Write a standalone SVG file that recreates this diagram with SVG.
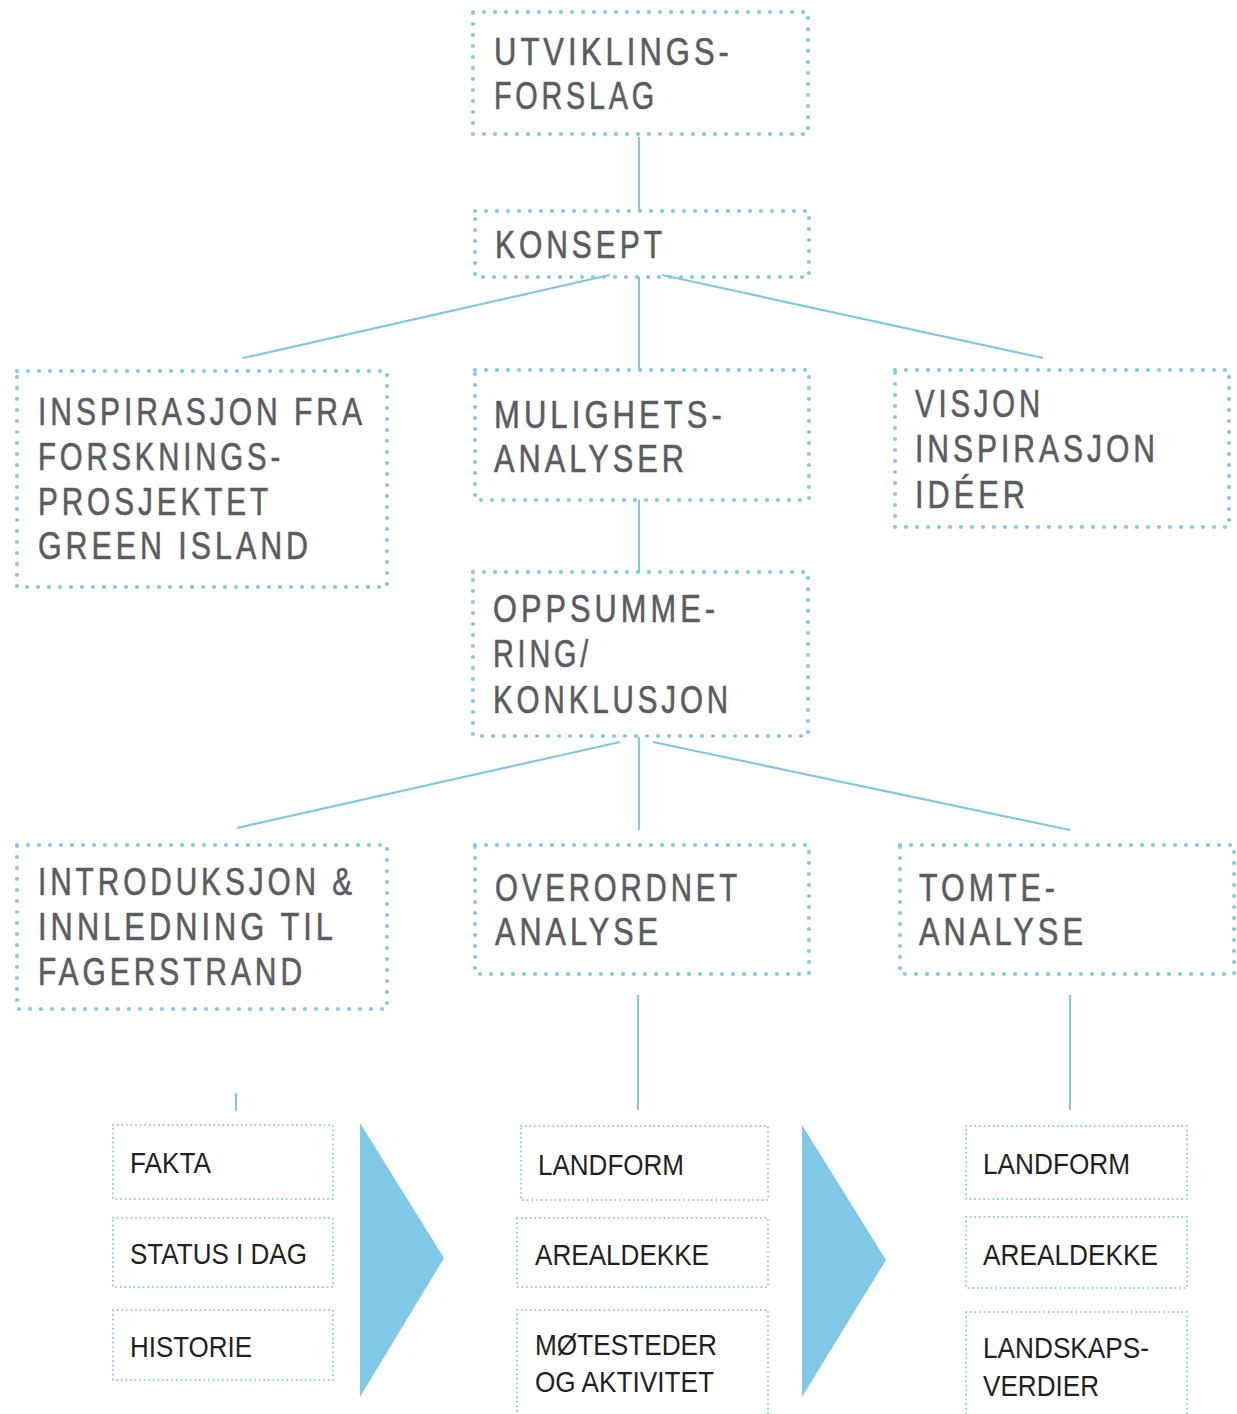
<svg xmlns="http://www.w3.org/2000/svg" width="1237" height="1414" viewBox="0 0 1237 1414">
<style>
.big{fill:none;stroke:#7fcbe9;stroke-width:4.2;stroke-dasharray:0 11;stroke-linecap:round}
.small{fill:none;stroke:#7fcbe9;stroke-width:2;stroke-dasharray:0 4.6;stroke-linecap:round}
.conn line{stroke:#7fc8e5;stroke-width:2.2}
.t1{font-family:"Liberation Sans",Arial,sans-serif;font-size:38px;fill:#5b5c61;stroke:#5b5c61;stroke-width:0.6;letter-spacing:5px}
.t2{font-family:"Liberation Sans",Arial,sans-serif;font-size:29px;fill:#231f20}
.tri{fill:#7fc9e6}
</style>
<rect width="1237" height="1414" fill="#ffffff"/>
<g id="connectors" class="conn">
<line x1="639" y1="137" x2="639" y2="211"/>
<line x1="610" y1="275" x2="243" y2="358"/>
<line x1="639" y1="277" x2="639" y2="370"/>
<line x1="662" y1="275" x2="1043" y2="358"/>
<line x1="639" y1="500" x2="639" y2="572"/>
<line x1="620" y1="742" x2="237" y2="828"/>
<line x1="639" y1="737" x2="639" y2="830"/>
<line x1="653" y1="742" x2="1070" y2="830"/>
<line x1="236" y1="1093" x2="236" y2="1111"/>
<line x1="638" y1="995" x2="638" y2="1110"/>
<line x1="1070" y1="995" x2="1070" y2="1110"/>
</g>
<g id="utviklingsforslag">
<rect class="big" x="473" y="12" width="335" height="122"/>
<text class="t1" x="494" y="65" textLength="239" lengthAdjust="spacingAndGlyphs">UTVIKLINGS-</text>
<text class="t1" x="494" y="109" textLength="164" lengthAdjust="spacingAndGlyphs">FORSLAG</text>
</g>
<g id="konsept">
<rect class="big" x="475" y="211" width="334" height="66"/>
<text class="t1" x="495" y="258" textLength="171" lengthAdjust="spacingAndGlyphs">KONSEPT</text>
</g>
<g id="inspirasjon">
<rect class="big" x="17" y="371" width="370" height="216"/>
<text class="t1" x="38" y="425" textLength="328" lengthAdjust="spacingAndGlyphs">INSPIRASJON FRA</text>
<text class="t1" x="38" y="470" textLength="246" lengthAdjust="spacingAndGlyphs">FORSKNINGS-</text>
<text class="t1" x="38" y="515" textLength="234" lengthAdjust="spacingAndGlyphs">PROSJEKTET</text>
<text class="t1" x="38" y="559" textLength="274" lengthAdjust="spacingAndGlyphs">GREEN ISLAND</text>
</g>
<g id="mulighetsanalyser">
<rect class="big" x="475" y="370" width="334" height="130"/>
<text class="t1" x="494" y="428" textLength="232" lengthAdjust="spacingAndGlyphs">MULIGHETS-</text>
<text class="t1" x="494" y="472" textLength="194" lengthAdjust="spacingAndGlyphs">ANALYSER</text>
</g>
<g id="visjon">
<rect class="big" x="895" y="370" width="334" height="157"/>
<text class="t1" x="915" y="417" textLength="129" lengthAdjust="spacingAndGlyphs">VISJON</text>
<text class="t1" x="915" y="462" textLength="244" lengthAdjust="spacingAndGlyphs">INSPIRASJON</text>
<text class="t1" x="915" y="508" textLength="114" lengthAdjust="spacingAndGlyphs">IDÉER</text>
</g>
<g id="oppsummering">
<rect class="big" x="473" y="572" width="335" height="164"/>
<text class="t1" x="493" y="622" textLength="226" lengthAdjust="spacingAndGlyphs">OPPSUMME-</text>
<text class="t1" x="493" y="667" textLength="99" lengthAdjust="spacingAndGlyphs">RING/</text>
<text class="t1" x="493" y="713" textLength="239" lengthAdjust="spacingAndGlyphs">KONKLUSJON</text>
</g>
<g id="introduksjon">
<rect class="big" x="17" y="845" width="370" height="164"/>
<text class="t1" x="38" y="895" textLength="318" lengthAdjust="spacingAndGlyphs">INTRODUKSJON &amp;</text>
<text class="t1" x="38" y="940" textLength="299" lengthAdjust="spacingAndGlyphs">INNLEDNING TIL</text>
<text class="t1" x="38" y="985" textLength="268" lengthAdjust="spacingAndGlyphs">FAGERSTRAND</text>
</g>
<g id="overordnet">
<rect class="big" x="475" y="845" width="334" height="129"/>
<text class="t1" x="495" y="901" textLength="246" lengthAdjust="spacingAndGlyphs">OVERORDNET</text>
<text class="t1" x="495" y="945" textLength="167" lengthAdjust="spacingAndGlyphs">ANALYSE</text>
</g>
<g id="tomteanalyse">
<rect class="big" x="900" y="845" width="334" height="129"/>
<text class="t1" x="919" y="901" textLength="140" lengthAdjust="spacingAndGlyphs">TOMTE-</text>
<text class="t1" x="919" y="945" textLength="168" lengthAdjust="spacingAndGlyphs">ANALYSE</text>
</g>
<g id="fakta">
<rect class="small" x="113" y="1125" width="220" height="74"/>
<text class="t2" x="130" y="1173" textLength="81" lengthAdjust="spacingAndGlyphs">FAKTA</text>
</g>
<g id="status">
<rect class="small" x="113" y="1218" width="220" height="69"/>
<text class="t2" x="130" y="1264" textLength="177" lengthAdjust="spacingAndGlyphs">STATUS I DAG</text>
</g>
<g id="historie">
<rect class="small" x="113" y="1310" width="220" height="70"/>
<text class="t2" x="130" y="1357" textLength="122" lengthAdjust="spacingAndGlyphs">HISTORIE</text>
</g>
<g id="arrow1">
<polygon class="tri" points="360,1123 444,1258 360,1397"/>
</g>
<g id="landform1">
<rect class="small" x="521" y="1126" width="247" height="74"/>
<text class="t2" x="538" y="1175" textLength="146" lengthAdjust="spacingAndGlyphs">LANDFORM</text>
</g>
<g id="arealdekke1">
<rect class="small" x="517" y="1218" width="251" height="69"/>
<text class="t2" x="535" y="1265" textLength="174" lengthAdjust="spacingAndGlyphs">AREALDEKKE</text>
</g>
<g id="motesteder">
<rect class="small" x="517" y="1310" width="251" height="110"/>
<text class="t2" x="535" y="1355" textLength="182" lengthAdjust="spacingAndGlyphs">MØTESTEDER</text>
<text class="t2" x="535" y="1392" textLength="179" lengthAdjust="spacingAndGlyphs">OG AKTIVITET</text>
</g>
<g id="arrow2">
<polygon class="tri" points="802,1125 886,1260 802,1397"/>
</g>
<g id="landform2">
<rect class="small" x="966" y="1126" width="221" height="73"/>
<text class="t2" x="983" y="1174" textLength="147" lengthAdjust="spacingAndGlyphs">LANDFORM</text>
</g>
<g id="arealdekke2">
<rect class="small" x="966" y="1217" width="221" height="71"/>
<text class="t2" x="983" y="1265" textLength="175" lengthAdjust="spacingAndGlyphs">AREALDEKKE</text>
</g>
<g id="landskapsverdier">
<rect class="small" x="966" y="1312" width="221" height="108"/>
<text class="t2" x="983" y="1358" textLength="166" lengthAdjust="spacingAndGlyphs">LANDSKAPS-</text>
<text class="t2" x="983" y="1396" textLength="116" lengthAdjust="spacingAndGlyphs">VERDIER</text>
</g>
</svg>
